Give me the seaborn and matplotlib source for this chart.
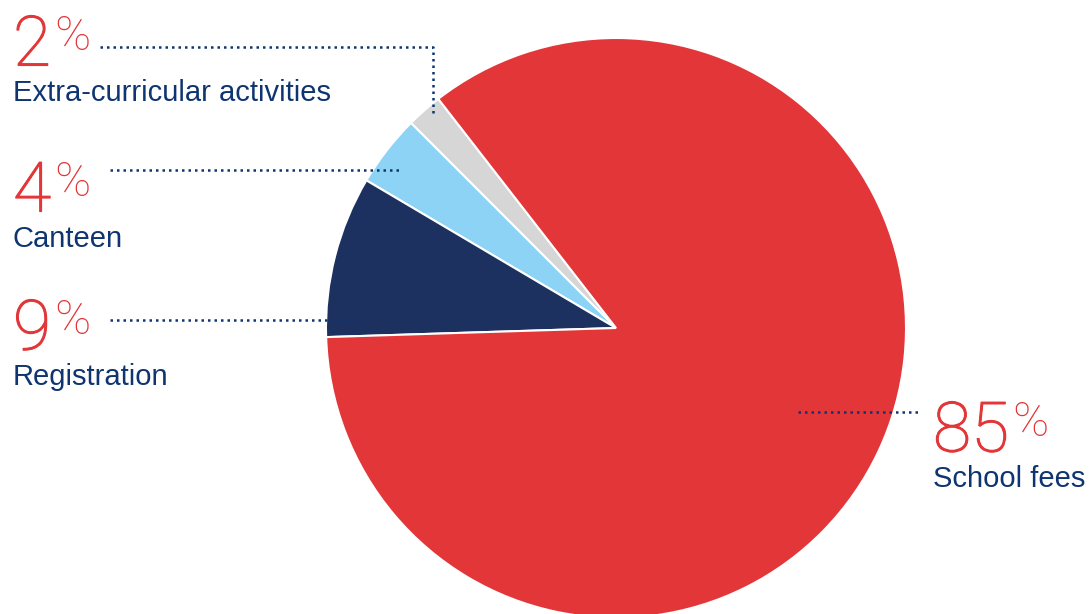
import matplotlib
matplotlib.use('Agg')
import matplotlib.pyplot as plt
import matplotlib.patheffects as pe
import seaborn as sns
from matplotlib.lines import Line2D

categories = ['Extra-curricular activities', 'Canteen', 'Registration', 'School fees']
shares = [2, 4, 9, 85]
colors = ['#d6d6d6', '#8dd3f5', '#1c3160', '#e33638']

sns.set_theme(style='white')
plt.rcParams['font.family'] = ['Liberation Sans', 'DejaVu Sans']

W, H = 1091, 614
fig = plt.figure(figsize=(W / 100, H / 100), dpi=100)
fig.patch.set_facecolor('white')

# pie: centre (616, 328) px, radius 290 px
cx, cy, r = 616, 328, 290
ax = fig.add_axes([(cx - r) / W, (H - cy - r) / H, 2 * r / W, 2 * r / H])
ax.pie(shares, colors=colors, startangle=127.8, counterclock=True,
       wedgeprops=dict(edgecolor='white', linewidth=1.5))
ax.set_xlim(-1, 1)
ax.set_ylim(-1, 1)
ax.set_aspect('equal')
ax.axis('off')

red = '#e33638'
navy = '#0e3570'
thicken = [pe.withStroke(linewidth=0.8, foreground=red)]


def px(x, y):
    return x / W, 1 - y / H


# label layout: (number x, number top y, label top y)
layout = {
    'Extra-curricular activities': (13, 16, 79),
    'Canteen': (13, 162, 225),
    'Registration': (13, 300, 363),
    'School fees': (933, 402, 465),
}

fig.canvas.draw()
renderer = fig.canvas.get_renderer()
for cat, val in zip(categories, shares):
    nx, ny, ly = layout[cat]
    t = fig.text(*px(nx, ny - 2), str(val), color=red, fontsize=50,
                 family=['Roboto', 'DejaVu Sans'], fontweight='light',
                 ha='left', va='top', path_effects=thicken)
    bb = t.get_window_extent(renderer)
    fig.text((bb.x1 + 3) / W, 1 - (ny - 3) / H, '%', color=red, fontsize=35,
             family=['Roboto', 'DejaVu Sans'], fontweight='light',
             ha='left', va='top')
    fig.text(*px(nx, ly), cat, color=navy, fontsize=21, ha='left', va='top')

# dotted leader lines
leaders = [
    [(100, 47), (433, 47), (433, 116)],
    [(110, 170), (402, 170)],
    [(110, 320), (350, 320)],
    [(798, 412), (920, 412)],
]
for pts in leaders:
    xs = [p[0] / W for p in pts]
    ys = [1 - p[1] / H for p in pts]
    fig.add_artist(Line2D(xs, ys, transform=fig.transFigure, color=navy,
                          linestyle=(0, (1, 1.6)), linewidth=1.8))

fig.savefig('out.png', dpi=100)
